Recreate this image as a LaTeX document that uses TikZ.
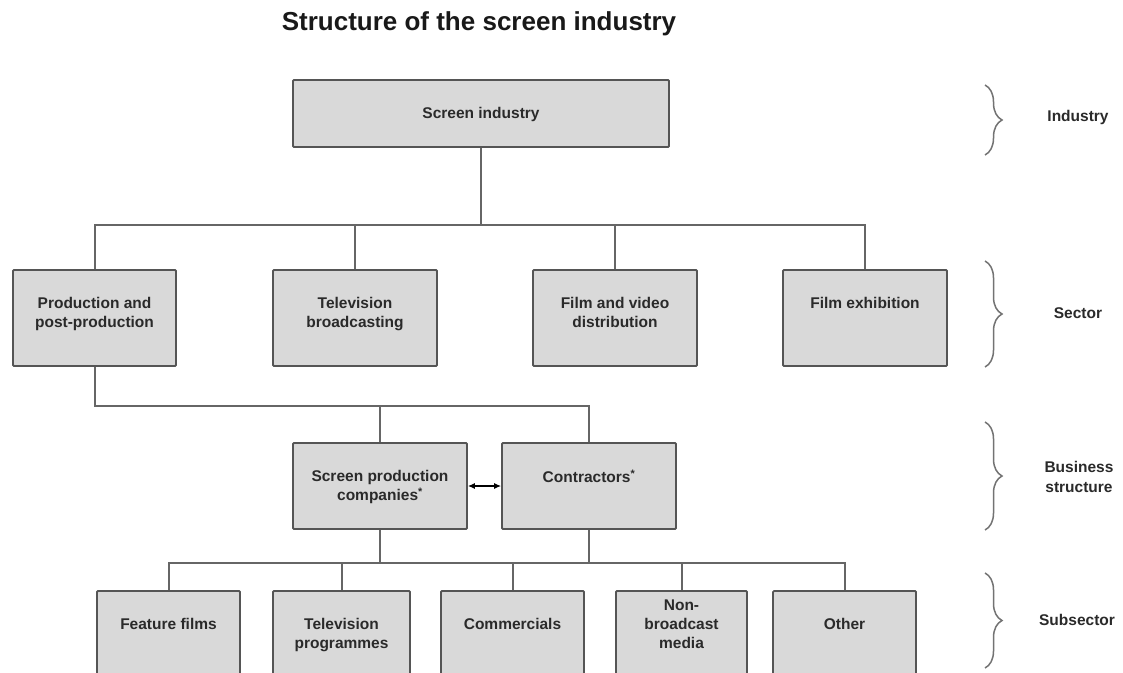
\documentclass[tikz,border=0pt]{standalone}
\usepackage{fontspec}
\setmainfont{Liberation Sans}
\usetikzlibrary{arrows.meta, positioning, calc, decorations.pathreplacing}
\definecolor{boxgrey}{HTML}{D9D9D9}
\definecolor{edgegrey}{HTML}{555555}
\definecolor{linkgrey}{HTML}{666666}
\definecolor{inkgrey}{HTML}{2A2A2A}
\definecolor{bracegrey}{HTML}{737373}
\tikzset{
  unitbox/.style={draw=edgegrey, fill=boxgrey, line width=1.8pt, rounded corners=1pt, inner sep=0pt},
  boxtext/.style={inkgrey, font=\fontsize{15.5}{19}\selectfont\bfseries, align=center, inner sep=0pt, anchor=north},
  link/.style={linkgrey, line width=2pt},
  levelbrace/.style={bracegrey, line width=1.5pt, decorate, decoration={brace, amplitude=17pt, aspect=0.5}},
  levelname/.style={inkgrey, font=\fontsize{15.5}{20}\selectfont\bfseries, align=center},
}

\begin{document}
\begin{tikzpicture}[x=1pt, y=-1pt]
  % Canvas
  \clip (0,0) rectangle (1123,672);
  \fill[white] (0,0) rectangle (1123,672);

  % Title
  \node[black!90, font=\fontsize{26}{30}\selectfont\bfseries] (title) at (479,24) {Structure of the screen industry};

  % Industry
  \node[unitbox, minimum width=376pt, minimum height=67pt] (screen) at (481,113.5) {};
  \node[boxtext] (screen-t) at ([yshift=-28pt]screen.north) {Screen industry};

  % Sectors
  \node[unitbox, minimum width=163pt, minimum height=96pt] (prod) at (94.5,318) {};
  \node[unitbox, minimum width=164pt, minimum height=96pt] (tvb) at (355,318) {};
  \node[unitbox, minimum width=164pt, minimum height=96pt] (dist) at (615,318) {};
  \node[unitbox, minimum width=164pt, minimum height=96pt] (exhib) at (865,318) {};
  \node[boxtext] (prod-t) at ([yshift=-28pt]prod.north) {Production and\\post-production};
  \node[boxtext] (tvb-t) at ([yshift=-28pt]tvb.north) {Television\\broadcasting};
  \node[boxtext] (dist-t) at ([yshift=-28pt]dist.north) {Film and video\\distribution};
  \node[boxtext] (exhib-t) at ([yshift=-28pt]exhib.north) {Film exhibition};

  % Business structure
  \node[unitbox, minimum width=174pt, minimum height=86pt] (spc) at (380,486) {};
  \node[unitbox, minimum width=174pt, minimum height=86pt] (contr) at (589,486) {};
  \node[boxtext] (spc-t) at ([yshift=-28pt]spc.north) {Screen production\\companies\textsuperscript{*}};
  \node[boxtext] (contr-t) at ([yshift=-28pt]contr.north) {Contractors\textsuperscript{*}};

  % Subsectors (run off the bottom edge)
  \node[unitbox, minimum width=143pt, minimum height=110pt] (feat) at (168.5,646) {};
  \node[unitbox, minimum width=137pt, minimum height=110pt] (tvp) at (341.5,646) {};
  \node[unitbox, minimum width=143pt, minimum height=110pt] (comm) at (512.5,646) {};
  \node[unitbox, minimum width=131pt, minimum height=110pt] (nonb) at (681.5,646) {};
  \node[unitbox, minimum width=143pt, minimum height=110pt] (other) at (844.5,646) {};
  \node[boxtext] (feat-t) at ([yshift=-28pt]feat.north) {Feature films};
  \node[boxtext] (tvp-t) at ([yshift=-28pt]tvp.north) {Television\\programmes};
  \node[boxtext] (comm-t) at ([yshift=-28pt]comm.north) {Commercials};
  \node[boxtext] (nonb-t) at ([yshift=-10pt]nonb.north) {Non-\\broadcast\\media};
  \node[boxtext] (other-t) at ([yshift=-28pt]other.north) {Other};

  % Tree connectors
  \coordinate (bus1) at (481,225);
  \coordinate (bus2) at (0,406);
  \coordinate (bus3) at (0,563);
  \draw[link] (screen.south) -- (bus1);
  \draw[link] (prod.north) |- (exhib.north |- bus1) -- (exhib.north);
  \foreach \n in {tvb,dist}
    \draw[link] (\n.north) -- (\n.north |- bus1);
  \draw[link] (prod.south) |- (contr.north |- bus2) -- (contr.north);
  \draw[link] (spc.north) -- (spc.north |- bus2);
  \draw[link] (spc.south) -- (spc.south |- bus3);
  \draw[link] (contr.south) -- (contr.south |- bus3);
  \draw[link] (feat.north) |- (other.north |- bus3) -- (other.north);
  \foreach \n in {tvp,comm,nonb}
    \draw[link] (\n.north) -- (\n.north |- bus3);

  % Two-way link
  \draw[black, line width=1.2pt, {Latex[length=7pt,width=6pt]}-{Latex[length=7pt,width=6pt]}] (spc.east) -- (contr.west);

  % Level braces
  \coordinate (ind-a) at (985,85);   \coordinate (ind-b) at (985,155);
  \coordinate (sec-a) at (985,261);  \coordinate (sec-b) at (985,367);
  \coordinate (bus-a) at (985,422);  \coordinate (bus-b) at (985,530);
  \coordinate (sub-a) at (985,573);  \coordinate (sub-b) at (985,668);
  \draw[levelbrace] (ind-a) -- (ind-b);
  \draw[levelbrace] (sec-a) -- (sec-b);
  \draw[levelbrace] (bus-a) -- (bus-b);
  \draw[levelbrace] (sub-a) -- (sub-b);

  % Level names
  \node[levelname] (lvl-ind) at (1078,117) {Industry};
  \node[levelname] (lvl-sec) at (1078,313) {Sector};
  \node[levelname] (lvl-bus) at (1079,477) {Business\\structure};
  \node[levelname] (lvl-sub) at (1077,620) {Subsector};
\end{tikzpicture}
\end{document}
